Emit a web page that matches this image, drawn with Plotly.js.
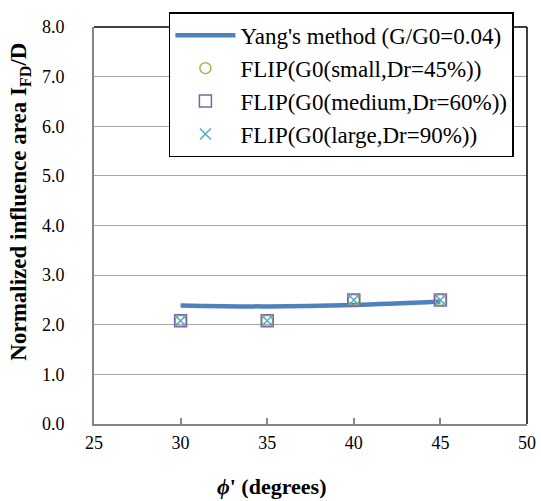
<!DOCTYPE html>
<html>
<head>
<meta charset="utf-8">
<script src="https://cdn.plot.ly/plotly-3.0.1.min.js"></script>
<style>body{margin:0;padding:0;background:#fff;}#chart{width:541px;height:501px;}</style>
</head>
<body>
<div id="chart"></div>
<script>
var phi = [30, 35, 40, 45];
var yang = [2.39, 2.37, 2.40, 2.47];
var flipSmall = [2.08, 2.08, 2.50, 2.50];
var flipMedium = [2.08, 2.08, 2.50, 2.50];
var flipLarge = [2.08, 2.08, 2.50, 2.50];
var xTicks = [25, 30, 35, 40, 45, 50];
var yTicks = [0, 1, 2, 3, 4, 5, 6, 7, 8];
var seriesNames = ["Yang's method (G/G0=0.04)", 'FLIP(G0(small,Dr=45%))', 'FLIP(G0(medium,Dr=60%))', 'FLIP(G0(large,Dr=90%))'];
var xTitle = "<b><i>ϕ</i>' (degrees)</b>";
var yTitle = '<b>Normalized influence area I<sub>FD</sub>/D</b>';

var font = "'Liberation Serif', 'Times New Roman', serif";
var traces = [
  {x: phi, y: yang, mode: 'lines', name: seriesNames[0], line: {color: '#4F81BD', width: 4.5, shape: 'spline'}},
  {x: phi, y: flipSmall, mode: 'markers', name: seriesNames[1], marker: {symbol: 'circle-open', size: 11, color: '#9BBB59', line: {width: 1.5}}},
  {x: phi, y: flipMedium, mode: 'markers', name: seriesNames[2], marker: {symbol: 'square-open', size: 12, color: '#8064A2', line: {width: 1.5}}},
  {x: phi, y: flipLarge, mode: 'markers', name: seriesNames[3], marker: {symbol: 'x-thin-open', size: 11, color: '#4BACC6', line: {width: 1.5}}}
];
var layout = {
  width: 541, height: 501,
  margin: {l: 94, r: 14, t: 23, b: 77},
  paper_bgcolor: '#fff', plot_bgcolor: '#fff',
  font: {family: font, size: 18, color: '#000'},
  showlegend: true,
  legend: {x: 0.173, y: 1.037, xanchor: 'left', yanchor: 'top', bgcolor: '#fff', bordercolor: '#000', borderwidth: 1.5, font: {family: font, size: 23, color: '#000'}, tracegroupgap: 0, itemwidth: 60, entrywidth: 352, entrywidthmode: 'pixels'},
  xaxis: {
    range: [25, 50], tickvals: xTicks, ticktext: xTicks.map(String),
    showgrid: false, zeroline: false, showline: true, linecolor: '#868686', linewidth: 2,
    ticks: 'inside', ticklen: 6, tickcolor: '#868686', tickwidth: 1.5,
    tickfont: {family: font, size: 18, color: '#000'}, ticklabelstandoff: 1
  },
  yaxis: {
    range: [0, 8], tickvals: yTicks, ticktext: yTicks.map(function(v){return v.toFixed(1);}),
    showgrid: true, gridcolor: '#A6A6A6', gridwidth: 1.2, zeroline: false,
    showline: true, linecolor: '#868686', linewidth: 2, ticks: '', ticklabelstandoff: 24,
    tickfont: {family: font, size: 18, color: '#000'}
  },
  annotations: [
    {text: xTitle, xref: 'paper', yref: 'paper', x: 0.411, y: -0.157, xanchor: 'center', yanchor: 'middle', showarrow: false, font: {family: font, size: 22, color: '#000'}},
    {text: yTitle, xref: 'paper', yref: 'paper', x: -0.171, y: 0.56, xanchor: 'center', yanchor: 'middle', textangle: -90, showarrow: false, font: {family: font, size: 23, color: '#000'}}
  ],
  shapes: [
    {type: 'line', xref: 'paper', yref: 'paper', x0: 0, x1: 1, y0: 1, y1: 1, line: {color: '#000', width: 1.5}},
    {type: 'line', xref: 'paper', yref: 'paper', x0: 1, x1: 1, y0: 0, y1: 1, line: {color: '#000', width: 1.5}}
  ]
};
Plotly.newPlot('chart', traces, layout, {displayModeBar: false});
</script>
</body>
</html>
